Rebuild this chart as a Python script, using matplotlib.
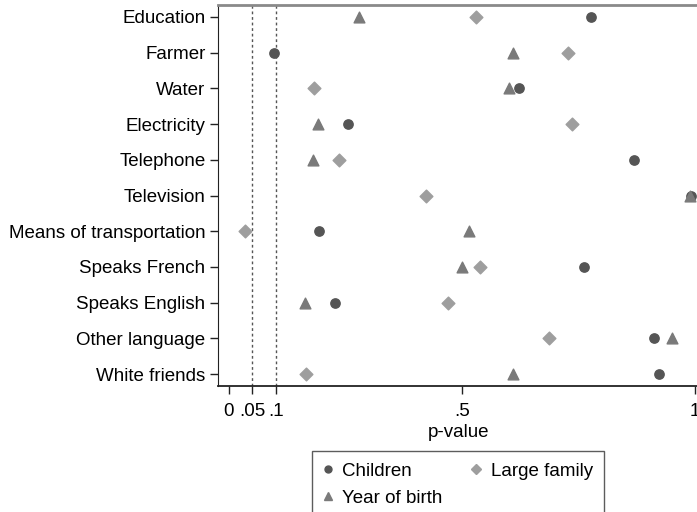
import matplotlib.pyplot as plt
from matplotlib.lines import Line2D

plt.rcParams['font.family'] = ['Liberation Sans', 'DejaVu Sans']

categories = ['Education', 'Farmer', 'Water', 'Electricity', 'Telephone', 'Television',
              'Means of transportation', 'Speaks French', 'Speaks English',
              'Other language', 'White friends']
children = [0.777, 0.097, 0.622, 0.255, 0.869, 0.991, 0.194, 0.762, 0.227, 0.911, 0.923]
large_family = [0.53, 0.727, 0.183, 0.736, 0.235, 0.423, 0.035, 0.539, 0.471, 0.686, 0.165]
year_of_birth = [0.28, 0.61, 0.60, 0.192, 0.18, 0.99, 0.514, 0.50, 0.164, 0.951, 0.61]
xticks = [0, 0.05, 0.1, 0.5, 1]
xticklabels = ['0', '.05', '.1', '.5', '1']

W, H = 697, 512
fs = 13.5
fig = plt.figure(figsize=(W / 100, H / 100), dpi=100)
left, right, top, bottom = 218, 700, 5, 386
ax = fig.add_axes([left / W, 1 - bottom / H, (right - left) / W, (bottom - top) / H])

y = list(range(len(categories)))
c_child = '#555555'
c_year = '#7a7a7a'
c_large = '#9e9e9e'
ax.scatter(children, y, marker='o', s=45, color=c_child, zorder=3)
ax.scatter(large_family, y, marker='D', s=42, color=c_large, zorder=3)
ax.scatter(year_of_birth, y, marker='^', s=60, color=c_year, zorder=3)

for v in (0.05, 0.1):
    ax.axvline(v, color='#555555', lw=1, ls=(0, (2, 2)), zorder=1)

ax.set_xlim(-0.0236, 1.0107)
ax.set_ylim(10.33, -0.33)
ax.set_yticks(y)
ax.set_yticklabels(categories, fontsize=fs)
ax.set_xticks(xticks)
ax.set_xticklabels(xticklabels, fontsize=fs)
ax.tick_params(axis='both', length=6, width=1, color='#222222', pad=3)
ax.tick_params(axis='x', pad=6)
ax.set_xlabel('p-value', fontsize=fs, labelpad=3)

ax.spines['right'].set_visible(False)
ax.spines['top'].set_color('#8a8a8a')
ax.spines['top'].set_linewidth(2)
ax.spines['left'].set_color('#222222')
ax.spines['bottom'].set_color('#222222')
ax.spines['bottom'].set_linewidth(1.3)

handles = [
    Line2D([], [], marker='o', ls='', color=c_child, markersize=5, label='Children'),
    Line2D([], [], marker='^', ls='', color=c_year, markersize=6, label='Year of birth'),
    Line2D([], [], marker='D', ls='', color=c_large, markersize=5, label='Large family'),
]
leg = fig.legend(handles=handles, ncol=2, loc='upper left',
                 bbox_to_anchor=(312 / W, 1 - 451 / H), fontsize=fs,
                 frameon=True, fancybox=False, handletextpad=0.55, handlelength=0.45,
                 columnspacing=1.55, borderpad=0.62, borderaxespad=0,
                 labelspacing=0.52)
leg.get_frame().set_edgecolor('#333333')
leg.get_frame().set_linewidth(1)

fig.savefig('out.png', dpi=100)
